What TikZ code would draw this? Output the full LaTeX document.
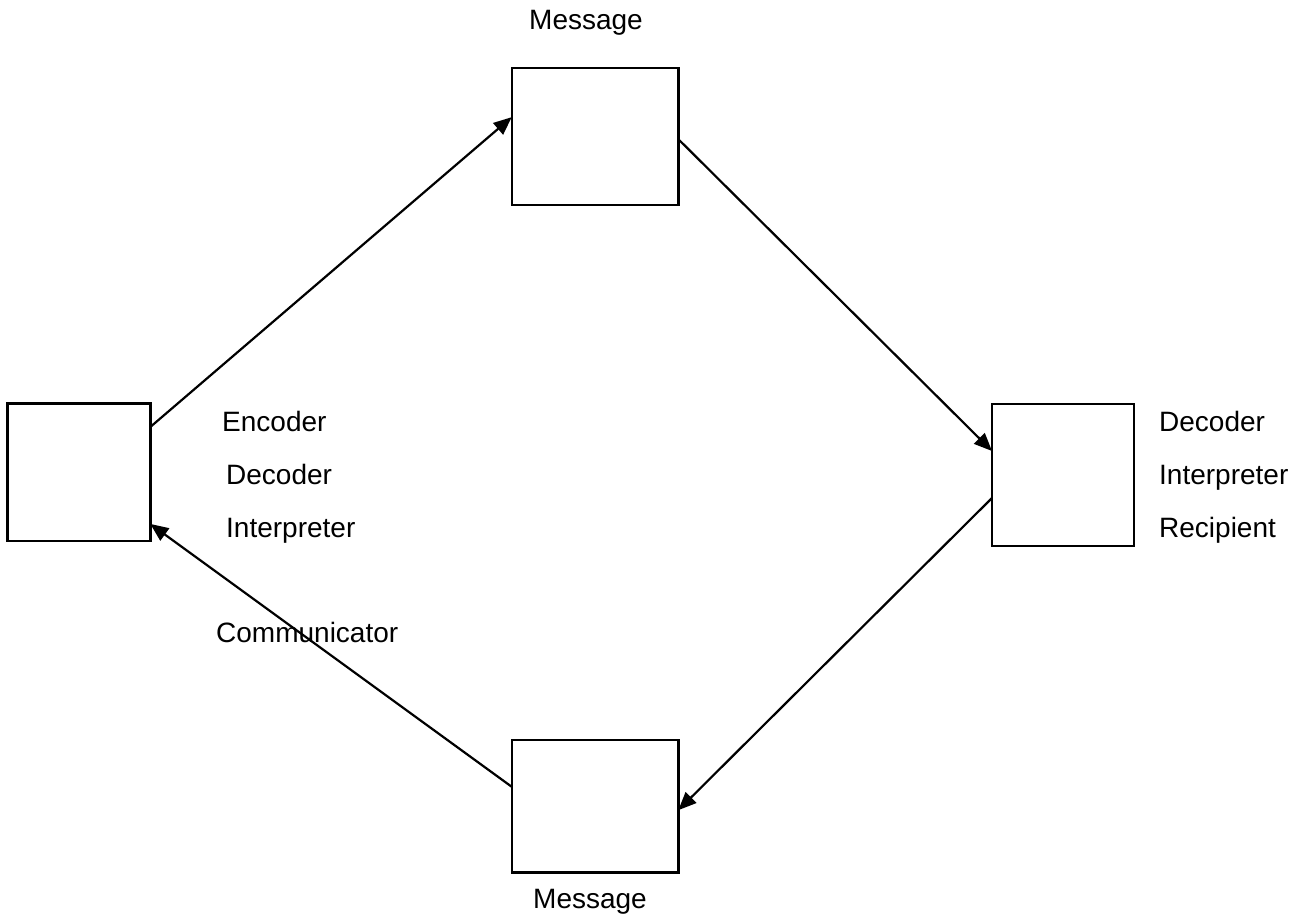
\documentclass[tikz,border=0pt]{standalone}
\usepackage{fontspec}
\setmainfont{Liberation Sans}
\usetikzlibrary{arrows.meta,calc}
\tikzset{
  box/.style={draw=black, line width=2.4pt, rectangle, inner sep=0pt, outer sep=0pt},
  conn/.style={draw=black, line width=2.2pt, -{Triangle[length=18pt,width=15pt]}},
  lbl/.style={anchor=base west, inner sep=0pt, font=\fontsize{28}{34}\selectfont},
  lblc/.style={anchor=base, inner sep=0pt, font=\fontsize{28}{34}\selectfont}
}
\begin{document}
\begin{tikzpicture}[x=1pt,y=-1pt]
\useasboundingbox[fill=white] (0,0) rectangle (1306,917);
% boxes
\node[box, minimum width=166.6pt, minimum height=137.3pt] (top) at (595,136.4) {};
\node[box, minimum width=143pt, minimum height=137.3pt] (left) at (78.8,472.3) {};
\node[box, minimum width=142pt, minimum height=142pt] (right) at (1063,474.7) {};
\node[box, minimum width=166.6pt, minimum height=132.3pt] (bottom) at (595,806.2) {};
% connectors
\draw[conn] ($(left.north east)!0.17!(left.south east)$) -- ($(top.north west)!0.36!(top.south west)$);
\draw[conn] ($(top.north east)!0.52!(top.south east)$) -- ($(right.north west)!0.333!(right.south west)$);
\draw[conn] ($(right.north west)!0.664!(right.south west)$) -- ($(bottom.north east)!0.53!(bottom.south east)$);
\draw[conn] ($(bottom.north west)!0.353!(bottom.south west)$) -- ($(left.north east)!0.876!(left.south east)$);
% labels
\node[lblc] (mtop) at (586,30) {Message};
\node[lbl] (enc) at (222,431) {Encoder};
\node[lbl] (dec1) at (226,484) {Decoder};
\node[lbl] (int1) at (226,537) {Interpreter};
\node[lbl] (comm) at (216,642) {Communicator};
\node[lbl] (dec2) at (1159,431) {Decoder};
\node[lbl] (int2) at (1159,484) {Interpreter};
\node[lbl] (rec) at (1159,537) {Recipient};
\node[lblc] (mbot) at (590,908) {Message};
\end{tikzpicture}
\end{document}
